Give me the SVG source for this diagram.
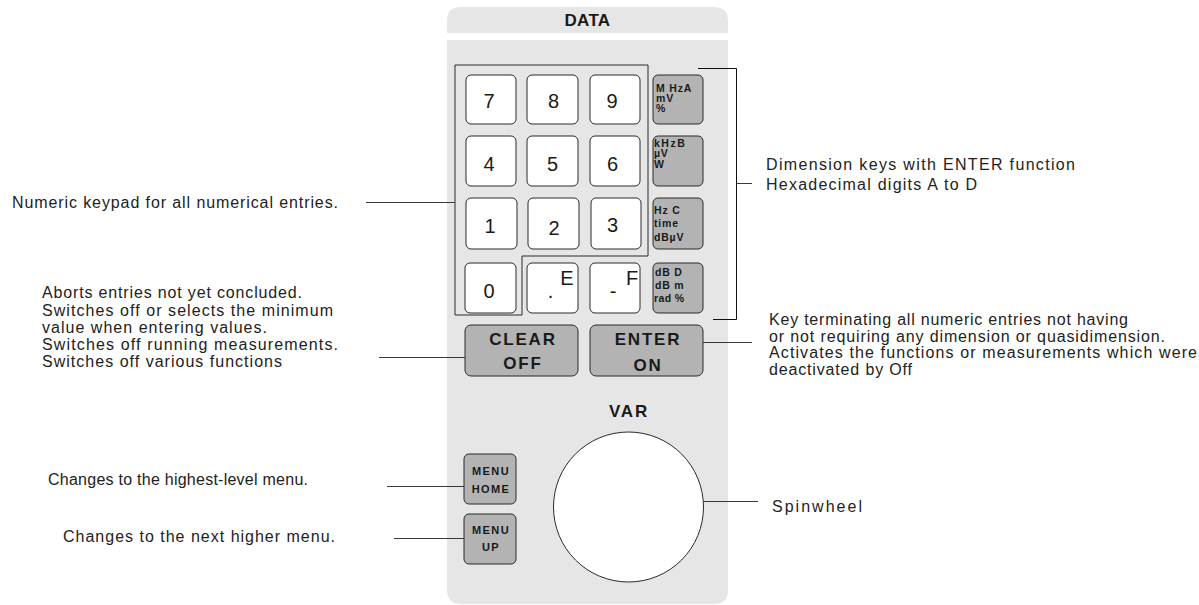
<svg xmlns="http://www.w3.org/2000/svg" width="1199" height="605" viewBox="0 0 1199 605">
<style>
.panel{fill:#e6e6e6}
.dkey{fill:#fff;stroke:#2a2a2a;stroke-width:1}
.gkey{fill:#b3b3b3;stroke:#2a2a2a;stroke-width:1}
.num{font-family:"Liberation Sans",Arial,sans-serif;font-size:20px;fill:#1a1a1a;text-anchor:middle}
.dim{font-family:"Liberation Sans",Arial,sans-serif;font-size:10.5px;font-weight:bold;fill:#1a1a1a;letter-spacing:0.8px}
.big{font-family:"Liberation Sans",Arial,sans-serif;font-size:17px;font-weight:bold;fill:#1a1a1a;text-anchor:middle;letter-spacing:1.8px}
.menu{font-family:"Liberation Sans",Arial,sans-serif;font-size:11px;font-weight:bold;fill:#1a1a1a;text-anchor:middle;letter-spacing:1.4px}
.lbl{font-family:"Liberation Sans",Arial,sans-serif;font-size:16px;fill:#222}
.conn line,.conn polyline{stroke:#3a3a3a;stroke-width:1;fill:none}
</style>
<g id="panel">
<path class="panel" d="M447,33 V21 Q447,7 461,7 H714 Q728,7 728,21 V33 Z"/>
<path class="panel" d="M447,40 H728 V590 Q728,604 714,604 H461 Q447,604 447,590 Z"/>
<text x="587.5" y="26" style="font-family:'Liberation Sans',Arial,sans-serif;font-size:17px;font-weight:bold;fill:#1a1a1a;letter-spacing:0.3px" text-anchor="middle">DATA</text>
</g>
<g id="keypad">
<path d="M455,65 H648 V256 H522 V315 H455 Z" fill="none" stroke="#2a2a2a" stroke-width="1"/>
</g>
<g id="key-7"><rect class="dkey" x="466" y="75" width="50" height="49" rx="5"/><text class="num" x="489" y="108">7</text></g>
<g id="key-8"><rect class="dkey" x="527" y="75" width="51" height="49" rx="5"/><text class="num" x="553.5" y="108">8</text></g>
<g id="key-9"><rect class="dkey" x="590" y="75" width="50" height="49" rx="5"/><text class="num" x="612" y="108">9</text></g>
<g id="key-4"><rect class="dkey" x="466" y="136" width="50" height="50" rx="5"/><text class="num" x="489" y="171">4</text></g>
<g id="key-5"><rect class="dkey" x="527" y="136" width="51" height="50" rx="5"/><text class="num" x="552.5" y="171">5</text></g>
<g id="key-6"><rect class="dkey" x="590" y="136" width="50" height="50" rx="5"/><text class="num" x="612.5" y="171">6</text></g>
<g id="key-1"><rect class="dkey" x="466" y="198" width="51" height="51" rx="5"/><text class="num" x="490" y="233">1</text></g>
<g id="key-2"><rect class="dkey" x="528" y="198" width="51" height="51" rx="5"/><text class="num" x="554" y="235">2</text></g>
<g id="key-3"><rect class="dkey" x="591" y="198" width="50" height="51" rx="5"/><text class="num" x="612.5" y="232">3</text></g>
<g id="key-0"><rect class="dkey" x="465" y="263" width="51" height="50" rx="5"/><text class="num" x="489" y="298">0</text></g>
<g id="key-dot"><rect class="dkey" x="527" y="263" width="51" height="50" rx="5"/><text class="num" x="567" y="285">E</text><text class="num" x="550.5" y="298">.</text></g>
<g id="key-minus"><rect class="dkey" x="590" y="263" width="50" height="50" rx="5"/><text class="num" x="632" y="285">F</text><text class="num" x="613" y="298">-</text></g>
<g id="dim-1"><rect class="gkey" x="653" y="75" width="50" height="49" rx="5"/>
<text class="dim" x="656" y="91.5">M HzA</text><text class="dim" x="656" y="101.5">mV</text><text class="dim" x="656" y="111.5">%</text></g>
<g id="dim-2"><rect class="gkey" x="653" y="136" width="50" height="50" rx="5"/>
<text class="dim" x="654" y="147" style="letter-spacing:1.5px">kHzB</text><text class="dim" x="654" y="157">µV</text><text class="dim" x="654" y="168">W</text></g>
<g id="dim-3"><rect class="gkey" x="653" y="198" width="50" height="51" rx="5"/>
<text class="dim" x="654" y="214">Hz C</text><text class="dim" x="654" y="227">time</text><text class="dim" x="654" y="241">dBµV</text></g>
<g id="dim-4"><rect class="gkey" x="653" y="263" width="50" height="50" rx="5"/>
<text class="dim" x="655" y="276">dB D</text><text class="dim" x="655" y="289">dB m</text><text class="dim" x="654" y="302" style="letter-spacing:0.4px">rad %</text></g>
<g id="key-clear"><rect class="gkey" x="465" y="325" width="113" height="51" rx="6"/>
<text class="big" x="523" y="345">CLEAR</text><text class="big" x="523" y="369">OFF</text></g>
<g id="key-enter"><rect class="gkey" x="590" y="325" width="113" height="51" rx="6"/>
<text class="big" x="648" y="345">ENTER</text><text class="big" x="648" y="371">ON</text></g>
<g id="var"><text class="big" x="629" y="417">VAR</text></g>
<g id="spinwheel"><circle cx="628.5" cy="507" r="75" fill="#fff" stroke="#2a2a2a" stroke-width="1"/></g>
<g id="key-menu-home"><rect class="gkey" x="464" y="454" width="52" height="50" rx="5"/>
<text class="menu" x="491" y="475">MENU</text><text class="menu" x="491" y="493">HOME</text></g>
<g id="key-menu-up"><rect class="gkey" x="464" y="514" width="52" height="50" rx="5"/>
<text class="menu" x="491" y="534">MENU</text><text class="menu" x="491" y="551">UP</text></g>
<g id="labels">
<text class="lbl" x="12" y="208" textLength="326" lengthAdjust="spacing">Numeric keypad for all numerical entries.</text>
<text class="lbl" x="42" y="298" textLength="260" lengthAdjust="spacing">Aborts entries not yet concluded.</text>
<text class="lbl" x="42" y="315.5" textLength="291" lengthAdjust="spacing">Switches off or selects the minimum</text>
<text class="lbl" x="42" y="333" textLength="225" lengthAdjust="spacing">value when entering values.</text>
<text class="lbl" x="42" y="350" textLength="296" lengthAdjust="spacing">Switches off running measurements.</text>
<text class="lbl" x="42" y="367" textLength="240" lengthAdjust="spacing">Switches off various functions</text>
<text class="lbl" x="48" y="485" textLength="260" lengthAdjust="spacing">Changes to the highest-level menu.</text>
<text class="lbl" x="63" y="541.5" textLength="272" lengthAdjust="spacing">Changes to the next higher menu.</text>
<text class="lbl" x="766" y="170" textLength="309" lengthAdjust="spacing">Dimension keys with ENTER function</text>
<text class="lbl" x="766" y="190" textLength="211" lengthAdjust="spacing">Hexadecimal digits A to D</text>
<text class="lbl" x="769" y="325" textLength="359" lengthAdjust="spacing">Key terminating all numeric entries not having</text>
<text class="lbl" x="769" y="341.5" textLength="396" lengthAdjust="spacing">or not requiring any dimension or quasidimension.</text>
<text class="lbl" x="769" y="358" textLength="428" lengthAdjust="spacing">Activates the functions or measurements which were</text>
<text class="lbl" x="769" y="374.5" textLength="143" lengthAdjust="spacing">deactivated by Off</text>
<text class="lbl" x="772" y="511.5" textLength="90" lengthAdjust="spacing">Spinwheel</text>
</g>
<g id="connectors" class="conn">
<line x1="366" y1="202.5" x2="455" y2="202.5"/>
<line x1="379" y1="357.5" x2="465" y2="357.5"/>
<line x1="387" y1="486.5" x2="464" y2="486.5"/>
<line x1="394" y1="538.5" x2="464" y2="538.5"/>
<polyline points="698,68.5 736.5,68.5 736.5,319.5 713,319.5" style="stroke:#111"/>
<line x1="736.5" y1="183.5" x2="752" y2="183.5"/>
<line x1="703" y1="342.5" x2="752" y2="342.5"/>
<line x1="703" y1="501.5" x2="758" y2="501.5"/>
</g>
</svg>
